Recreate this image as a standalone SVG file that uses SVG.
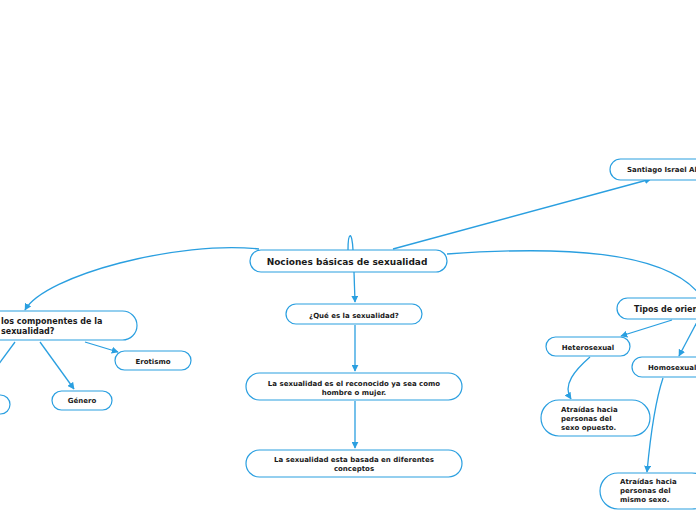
<svg xmlns="http://www.w3.org/2000/svg" width="696" height="520" viewBox="0 0 696 520">
<style>
.n{fill:#fff;stroke:#2a9fe0;stroke-width:1.2}
.t{font-family:"DejaVu Sans",Verdana,sans-serif;font-weight:bold;fill:#1a1a1a}
.s{font-size:7px}
.m{font-size:8px}
.b{font-size:9px}
.c{fill:none;stroke:#2a9fe0;stroke-width:1.3}
</style>
<defs>
<marker id="a" viewBox="0 0 10 10" refX="9" refY="5" markerWidth="7" markerHeight="7" orient="auto-start-reverse" markerUnits="userSpaceOnUse">
<path d="M0,0 L10,5 L0,10 z" fill="#2a9fe0"/>
</marker>
</defs>
<g id="connectors">
<path class="c" d="M348,250 C348,232 352,230 353,250"/>
<path class="c" d="M393,249 L651,179" marker-end="url(#a)"/>
<path class="c" d="M259,249 C180,240 45,275 25,310" marker-end="url(#a)"/>
<path class="c" d="M447,254 C560,246 665,250 700,295"/>
<path class="c" d="M354,272 L355,302" marker-end="url(#a)"/>
<path class="c" d="M355,325 L355,371" marker-end="url(#a)"/>
<path class="c" d="M355,401 L355,448" marker-end="url(#a)"/>
<path class="c" d="M85,342 L118,352" marker-end="url(#a)"/>
<path class="c" d="M40,342 L74,389" marker-end="url(#a)"/>
<path class="c" d="M15,342 L-2,365"/>
<path class="c" d="M672,320 L621,336" marker-end="url(#a)"/>
<path class="c" d="M698,320 L679,356" marker-end="url(#a)"/>
<path class="c" d="M590,357 C575,370 562,385 571,399" marker-end="url(#a)"/>
<path class="c" d="M663,378 C654,405 650,440 647,472" marker-end="url(#a)"/>
</g>
<g id="n-central"><rect class="n" x="250" y="250" width="197" height="22" rx="11"/><text class="t b" x="347" y="265" text-anchor="middle">Nociones básicas de sexualidad</text></g>
<g id="n-santiago"><rect class="n" x="610" y="159" width="110" height="21" rx="10.5"/><text class="t s" x="627" y="172">Santiago Israel Al</text></g>
<g id="n-componentes"><rect class="n" x="-60" y="311" width="197" height="29" rx="14.5"/><text class="t m" x="1" y="324">los componentes de la</text><text class="t m" x="1" y="334">sexualidad?</text></g>
<g id="n-erotismo"><rect class="n" x="115" y="351" width="76" height="19" rx="9.5"/><text class="t s" x="153" y="364" text-anchor="middle">Erotismo</text></g>
<g id="n-genero"><rect class="n" x="52" y="391" width="60" height="19" rx="9.5"/><text class="t s" x="82" y="403" text-anchor="middle">Género</text></g>
<g id="n-partial"><rect class="n" x="-60" y="395" width="70" height="19" rx="9.5"/></g>
<g id="n-que"><rect class="n" x="286" y="304" width="136" height="20" rx="10"/><text class="t s" x="354" y="318" text-anchor="middle">¿Qué es la sexualidad?</text></g>
<g id="n-reconocido"><rect class="n" x="246" y="373" width="216" height="27" rx="13.5"/><text class="t s" x="354" y="386" text-anchor="middle">La sexualidad es el reconocido ya sea como</text><text class="t s" x="354" y="395" text-anchor="middle">hombre o mujer.</text></g>
<g id="n-basada"><rect class="n" x="246" y="450" width="216" height="27" rx="13.5"/><text class="t s" x="354" y="462" text-anchor="middle">La sexualidad esta basada en diferentes</text><text class="t s" x="354" y="471" text-anchor="middle">conceptos</text></g>
<g id="n-tipos"><rect class="n" x="617" y="298" width="110" height="21" rx="10.5"/><text class="t m" x="634" y="312">Tipos de orien</text></g>
<g id="n-hetero"><rect class="n" x="546" y="337" width="84" height="19" rx="9.5"/><text class="t s" x="588" y="350" text-anchor="middle">Heterosexual</text></g>
<g id="n-homo"><rect class="n" x="632" y="357" width="90" height="20" rx="10"/><text class="t s" x="648" y="370">Homosexual</text></g>
<g id="n-opuesto"><rect class="n" x="541" y="400" width="109" height="36" rx="18"/><text class="t s" x="561" y="412">Atraídas hacia</text><text class="t s" x="561" y="421">personas del</text><text class="t s" x="561" y="430">sexo opuesto.</text></g>
<g id="n-mismo"><rect class="n" x="600" y="473" width="110" height="36" rx="18"/><text class="t s" x="620" y="484">Atraídas hacia</text><text class="t s" x="620" y="493">personas del</text><text class="t s" x="620" y="502">mismo sexo.</text></g>
</svg>
